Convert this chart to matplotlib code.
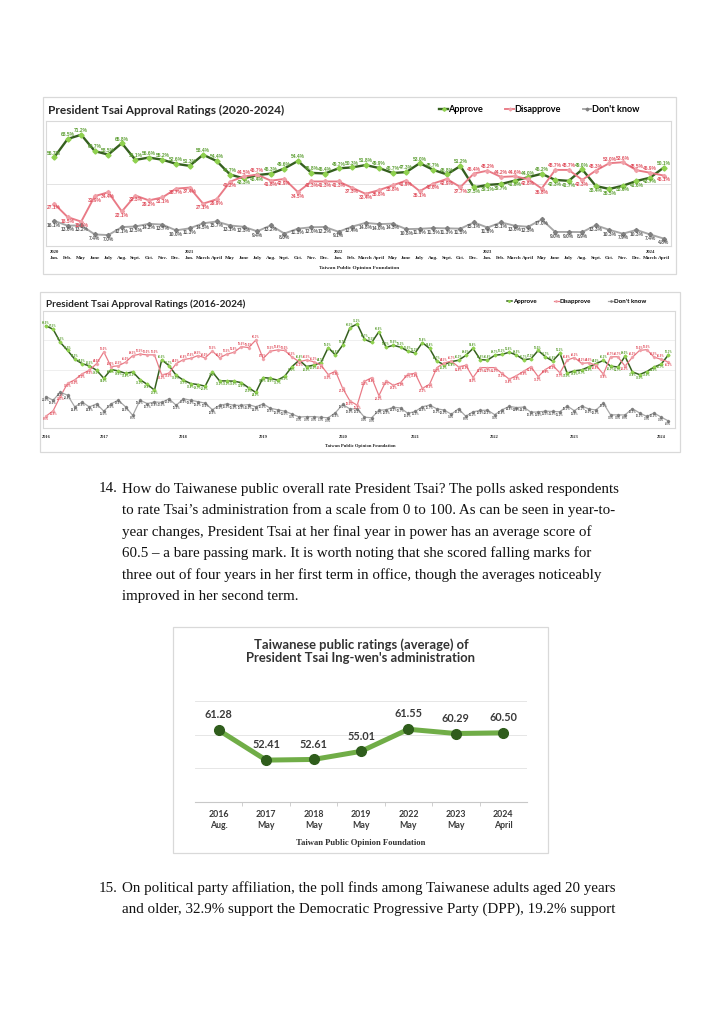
import matplotlib
matplotlib.use("Agg")
import matplotlib.pyplot as plt
from matplotlib.patches import Rectangle
from matplotlib.transforms import blended_transform_factory
import numpy as np

W, H = 724, 1024

# ---- chart 1: 2020-2024 monthly polls ----
months_20 = ["Jan.", "Feb.", "May", "June", "July", "Aug.", "Sept.", "Oct.", "Nov.", "Dec.",
             "Jan.", "March", "April", "May", "June", "July", "Aug.", "Sept.", "Oct.", "Nov.", "Dec.",
             "Jan.", "Feb.", "March", "April", "May", "June", "July", "Aug.", "Sept.", "Oct.", "Dec.",
             "Jan.", "Feb.", "March", "April", "May", "June", "July", "Aug.", "Sept.", "Oct.", "Nov.", "Dec.",
             "March", "April"]
years_20 = ["2020", "2021", "2022", "2023", "2024"]
year_start_20 = [0, 10, 21, 32, 44]

approve_20 = [56.7, 68.5, 71.2, 60.7, 58.5, 65.8, 55.1, 56.6, 55.2, 52.6,
              51.3, 58.4, 54.4, 45.7, 43.3, 45.4, 46.3, 49.6, 54.4, 46.8, 46.4,
              49.7, 50.3, 51.8, 49.9, 46.7, 47.3, 53.0, 48.7, 45.8, 51.2, 37.5,
              39.1, 39.7, 41.8, 44.0, 46.2, 42.3, 41.7, 49.0, 38.4, 36.5, 38.6, 41.6,
              43.7, 50.1]
disapprove_20 = [27.1, 18.5, 15.6, 31.9, 34.4, 22.1, 32.3, 29.2, 31.1, 36.7,
                 37.4, 27.1, 29.9, 41.2, 44.5, 45.7, 41.8, 42.9, 34.5, 41.3, 41.3,
                 41.3, 37.3, 33.4, 35.8, 38.8, 41.9, 35.1, 40.0, 42.9, 37.7, 46.4,
                 48.2, 44.2, 44.6, 42.8, 36.8, 48.7, 48.7, 42.3, 48.3, 53.0, 53.6, 48.5,
                 46.9, 45.1]
dontknow_20 = [16.1, 13.0, 13.2, 7.4, 7.0, 12.1, 12.5, 14.2, 13.7, 10.0,
               11.3, 14.5, 15.7, 13.1, 12.3, 9.4, 13.2, 8.0, 11.1, 12.0, 12.2,
               9.1, 12.4, 14.8, 14.0, 14.3, 10.8, 11.0, 11.5, 11.3, 11.1, 15.1,
               11.8, 15.1, 13.0, 12.3, 17.0, 9.0, 9.0, 8.9, 13.3, 10.3, 7.9, 10.3,
               7.4, 4.8]

# ---- chart 2: 2016-2019 part (2020 onward reuses chart 1) ----
years_16 = ["2016", "2017", "2018", "2019"]
year_count_16 = [8, 11, 11, 11]
approve_16 = [69.9, 67.5, 58.5, 53.0, 47.0, 44.0, 42.5, 39.5,
              34.0, 40.0, 39.0, 37.4, 38.3, 33.1, 29.8, 25.9, 46.6, 42.7, 36.0,
              32.7, 30.4, 29.7, 28.6, 38.3, 32.2, 32.2, 32.0, 31.0, 27.5, 24.3,
              34.5, 34.0, 32.7, 35.5, 42.0, 46.4, 42.0, 43.0, 44.7, 55.0, 49.8]
disapprove_16 = [8.0, 11.8, 21.7, 30.5, 33.0, 37.0, 39.5, 44.0,
                 52.0, 42.0, 42.5, 45.0, 49.5, 50.5, 50.0, 50.0, 36.3, 37.5, 44.0,
                 46.8, 47.6, 49.5, 48.0, 52.5, 48.0, 50.5, 51.8, 55.6, 55.0, 60.1,
                 47.5, 52.5, 53.4, 53.0, 48.5, 45.3, 46.5, 45.3, 43.0, 36.5, 38.8]
dontknow_16 = [21.5, 19.0, 24.5, 22.4, 14.4, 17.8, 14.4, 16.5,
               11.5, 16.5, 19.0, 14.5, 8.6, 19.0, 16.7, 17.8, 17.5, 20.0, 15.5,
               20.0, 19.0, 18.0, 17.0, 12.5, 15.5, 16.5, 15.5, 15.5, 16.0, 14.5,
               16.5, 13.5, 12.5, 11.5, 9.5, 7.5, 7.8, 7.8, 7.3, 7.0, 10.5]

# ---- chart 3: average rating ----
cats_avg = ["2016\nAug.", "2017\nMay", "2018\nMay", "2019\nMay", "2022\nMay", "2023\nMay", "2024\nApril"]
score_avg = [61.28, 52.41, 52.61, 55.01, 61.55, 60.29, 60.50]

para14 = ["How do Taiwanese public overall rate President Tsai? The polls asked respondents",
          "to rate Tsai\u2019s administration from a scale from 0 to 100. As can be seen in year-to-",
          "year changes, President Tsai at her final year in power has an average score of",
          "60.5 \u2013 a bare passing mark. It is worth noting that she scored falling marks for",
          "three out of four years in her first term in office, though the averages noticeably",
          "improved in her second term."]
para15 = ["On political party affiliation, the poll finds among Taiwanese adults aged 20 years",
          "and older, 32.9% support the Democratic Progressive Party (DPP), 19.2% support"]

G_LINE, G_MK, G_LAB = "#355f1f", "#8fd14f", "#5c9e32"
R_LINE, R_MK, R_LAB = "#e97a86", "#f0a0a8", "#e0505e"
K_LINE, K_MK, K_LAB = "#a6a6a6", "#7f7f7f", "#595959"
BORDER = "#d9d9d9"
SERIF = "Liberation Serif"
SANS = "Lato"

plt.rcParams["font.family"] = [SANS, "DejaVu Sans"]


def rect(x0, y0, x1, y1):
    return [x0 / W, 1 - y1 / H, (x1 - x0) / W, (y1 - y0) / H]


def frame(fig, x0, y0, x1, y1):
    fig.add_artist(Rectangle((x0 / W, 1 - y1 / H), (x1 - x0) / W, (y1 - y0) / H,
                             transform=fig.transFigure, fill=False, ec=BORDER, lw=0.9))


def series(ax, vals, above, line_c, mk_c, lab_c, lw, ms, fs, off, label):
    x = np.arange(len(vals))
    ax.plot(x, vals, color=line_c, lw=lw, marker="D", ms=ms, mfc=mk_c, mec=mk_c,
            zorder=4, label=label)
    for xi, v, up in zip(x, vals, above):
        ax.annotate(f"{v:.1f}%", (xi, v), xytext=(0, off if up else -off),
                    textcoords="offset points", ha="center",
                    va="bottom" if up else "top", fontsize=fs, color=lab_c,
                    family="Liberation Sans", fontweight="bold", zorder=5)


def approval_panel(ax, app, dis, dk, lw, ms, fs, off):
    app, dis = np.array(app), np.array(dis)
    hi = app >= dis
    series(ax, app, hi, G_LINE, G_MK, G_LAB, lw, ms, fs, off, "Approve")
    series(ax, dis, ~hi, R_LINE, R_MK, R_LAB, lw * 0.8, ms * 0.8, fs, off, "Disapprove")
    series(ax, dk, [False] * len(dk), K_LINE, K_MK, K_LAB, lw * 0.8, ms * 0.8, fs, off,
           "Don't know")
    ax.set_ylim(0, 80)
    ax.set_yticks([])
    for s in ax.spines.values():
        s.set_color(BORDER)
        s.set_linewidth(0.8)
    ax.tick_params(length=0)


fig = plt.figure(figsize=(W / 100, H / 100), dpi=100)
fig.patch.set_facecolor("white")

# ---------------- chart 1 ----------------
frame(fig, 43, 97, 676, 274)
ax1 = fig.add_axes(rect(46, 121, 671, 246))
approval_panel(ax1, approve_20, disapprove_20, dontknow_20, 1.7, 2.6, 3.5, 1.2)
n1 = len(approve_20)
ax1.set_xlim(-0.6, n1 - 1 + 0.55)
for g in [40]:
    ax1.axhline(g, color="#e3e3e3", lw=0.7, zorder=1)
ax1.set_xticks(range(n1))
ax1.set_xticklabels(months_20, fontsize=3.7, family=SERIF, fontweight="bold", color="#222")
ax1.tick_params(axis="x", pad=7.5)
tr1 = blended_transform_factory(ax1.transData, ax1.transAxes)
for yr, i0 in zip(years_20, year_start_20):
    ax1.text(i0, -0.035, yr, transform=tr1, ha="center", va="top", fontsize=3.3,
             family=SERIF, fontweight="bold", color="#222")
fig.text(359 / W, 1 - 268 / H, "Taiwan Public Opinion Foundation", ha="center", va="center",
         fontsize=3.8, family=SERIF, fontweight="bold", color="#222")
fig.text(48 / W, 1 - 110 / H, "President Tsai Approval Ratings (2020-2024)", ha="left",
         va="center", fontsize=8.6, fontweight="bold", color="#262626")
ax1.legend(loc="center right", bbox_to_anchor=(648 / W, 1 - 110 / H),
           bbox_transform=fig.transFigure, ncol=3, frameon=False, handlelength=0.9,
           handletextpad=0.1, columnspacing=2.4, markerscale=0.7,
           prop={"family": SANS, "weight": "bold", "size": 6.6})

# ---------------- chart 2 ----------------
frame(fig, 40, 292, 680, 452)
ax2 = fig.add_axes(rect(43, 311, 675, 428))
app2 = approve_16 + approve_20
dis2 = disapprove_16 + disapprove_20
dk2 = dontknow_16 + dontknow_20
approval_panel(ax2, app2, dis2, dk2, 1.1, 1.5, 1.9, 0.7)
n2 = len(app2)
ax2.set_xlim(-0.4, n2 - 1 + 0.9)
for g in [20, 40, 60]:
    ax2.axhline(g, color="#ececec", lw=0.6, zorder=1)
ax2.set_xticks([])
tr2 = blended_transform_factory(ax2.transData, ax2.transAxes)
starts16 = np.concatenate([[0], np.cumsum(year_count_16)[:-1]])
year_pos2 = list(starts16) + [len(approve_16) + s for s in year_start_20]
for yr, i0 in zip(years_16 + years_20, year_pos2):
    ax2.text(i0, -0.06, yr, transform=tr2, ha="center", va="top", fontsize=3.2,
             family=SERIF, fontweight="bold", color="#222")
fig.text(360 / W, 1 - 446 / H, "Taiwan Public Opinion Foundation", ha="center", va="center",
         fontsize=3.3, family=SERIF, fontweight="bold", color="#222")
fig.text(46 / W, 1 - 304 / H, "President Tsai Approval Ratings (2016-2024)", ha="left",
         va="center", fontsize=7.2, fontweight="bold", color="#262626")
ax2.legend(loc="center right", bbox_to_anchor=(652 / W, 1 - 301 / H),
           bbox_transform=fig.transFigure, ncol=3, frameon=False, handlelength=0.9,
           handletextpad=0.1, columnspacing=2.8, markerscale=0.7,
           prop={"family": SANS, "weight": "bold", "size": 4.4})

# ---------------- paragraph 14 ----------------
PFS = 10.8
line_y14 = [489, 510.5, 532, 553.5, 575, 596.5]
fig.text(118 / W, 1 - line_y14[0] / H, "14.", ha="right", va="center", fontsize=PFS,
         family=SERIF, color="#111")
for txt, yy in zip(para14, line_y14):
    fig.text(122 / W, 1 - yy / H, txt, ha="left", va="center", fontsize=PFS,
             family=SERIF, color="#111")

# ---------------- chart 3 ----------------
frame(fig, 173, 627, 548, 853)
ax3 = fig.add_axes(rect(195, 667, 527, 802))
x3 = np.arange(len(score_avg))
ax3.plot(x3, score_avg, color="#70ad47", lw=3.6, solid_capstyle="round", zorder=3)
ax3.plot(x3, score_avg, ls="none", marker="o", ms=7, mfc="#2f5d1c", mec="#2f5d1c", zorder=4)
for xi, v in zip(x3, score_avg):
    ax3.annotate(f"{v:.2f}", (xi, v), xytext=(0, 11), textcoords="offset points",
                 ha="center", va="center", fontsize=7.8, fontweight="bold", color="#3a3a3a")
ax3.set_xlim(-0.5, len(score_avg) - 0.5)
ax3.set_ylim(40, 80)
ax3.set_yticks([])
for g in [50, 60, 70]:
    ax3.axhline(g, color="#e6e6e6", lw=0.7, zorder=1)
for k in ["top", "left", "right"]:
    ax3.spines[k].set_visible(False)
ax3.spines["bottom"].set_color("#c8c8c8")
ax3.set_xticks(x3)
ax3.set_xticklabels(cats_avg, fontsize=6.3, fontweight="bold", color="#3a3a3a",
                    linespacing=1.25)
ax3.set_xticks(x3[:-1] + 0.5, minor=True)
ax3.tick_params(axis="x", which="major", length=0, pad=6)
ax3.tick_params(axis="x", which="minor", length=3, color="#c8c8c8")
fig.text(361 / W, 1 - 651 / H,
         "Taiwanese public ratings (average) of\nPresident Tsai Ing-wen's administration",
         ha="center", va="center", fontsize=9.4, fontweight="bold", color="#333",
         linespacing=1.15)
fig.text(361 / W, 1 - 843 / H, "Taiwan Public Opinion Foundation", ha="center", va="center",
         fontsize=6.2, family=SERIF, fontweight="bold", color="#333")

# ---------------- paragraph 15 ----------------
line_y15 = [888, 909.5]
fig.text(118 / W, 1 - line_y15[0] / H, "15.", ha="right", va="center", fontsize=PFS,
         family=SERIF, color="#111")
for txt, yy in zip(para15, line_y15):
    fig.text(122 / W, 1 - yy / H, txt, ha="left", va="center", fontsize=PFS,
             family=SERIF, color="#111")

fig.savefig("out.png", dpi=100, facecolor="white")
plt.close(fig)
